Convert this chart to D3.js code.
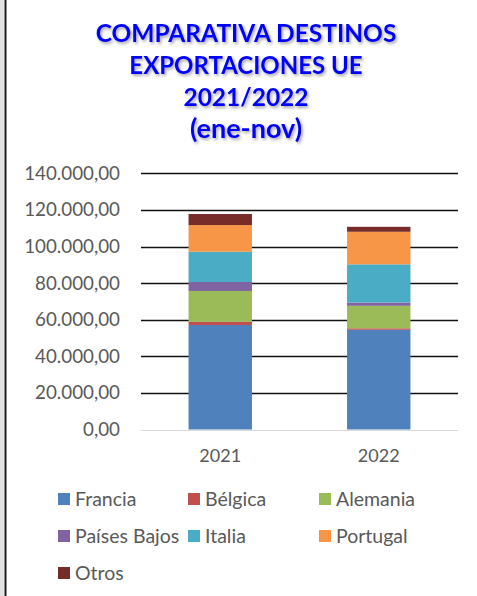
<!DOCTYPE html>
<html><head><meta charset="utf-8">
<script src="https://cdn.jsdelivr.net/npm/d3@7"></script>
<style>html,body{margin:0;padding:0;background:#fff;}svg{display:block;}</style>
</head><body>
<script>
const years = ["2021", "2022"];
const seriesNames = ["Francia", "Bélgica", "Alemania", "Países Bajos", "Italia", "Portugal", "Otros"];
const colors = ["#4F81BD", "#C0504D", "#9BBB59", "#8064A2", "#4BACC6", "#F79646", "#772C2A"];
const francia = [57100, 54500];
const belgica = [1800, 800];
const alemania = [16800, 12300];
const paisesBajos = [4900, 1800];
const italia = [16550, 20850];
const portugal = [14550, 17800];
const otros = [6050, 2700];
const yTicks = [0, 20000, 40000, 60000, 80000, 100000, 120000, 140000];
const titleLines = ["COMPARATIVA DESTINOS", "EXPORTACIONES UE", "2021/2022", "(ene-nov)"];

const W = 477, H = 596;
const svg = d3.select("body").append("svg").attr("width", W).attr("height", H);

// frame left edge
svg.append("rect").attr("x", 0).attr("y", 0).attr("width", 4).attr("height", H).attr("fill", "#e2e2e2");
svg.append("rect").attr("x", 4.5).attr("y", 0).attr("width", 2).attr("height", H).attr("fill", "#1a1a1a");

const defs = svg.append("defs");
const f = defs.append("filter").attr("id", "sh").attr("x", "-10%").attr("y", "-30%").attr("width", "130%").attr("height", "170%");
f.append("feDropShadow").attr("dx", 1.5).attr("dy", 2).attr("stdDeviation", 1.5).attr("flood-color", "#000").attr("flood-opacity", 0.35);

const font = "Lato, 'Open Sans', sans-serif";
const titleSizes = [24.5, 24, 24.5, 27];

// title
svg.append("g").attr("filter", "url(#sh)")
  .selectAll("text").data(titleLines).join("text")
  .attr("x", 246).attr("y", (d, i) => 42 + i * 32)
  .attr("text-anchor", "middle")
  .attr("font-family", font).attr("font-weight", "bold").attr("font-size", (d, i) => titleSizes[i])
  .attr("fill", "#0000FF").text(d => d);

const data = years.map((y, i) => ({
  year: y,
  "Francia": francia[i], "Bélgica": belgica[i], "Alemania": alemania[i],
  "Países Bajos": paisesBajos[i], "Italia": italia[i], "Portugal": portugal[i], "Otros": otros[i]
}));

const x = d3.scaleBand().domain(years).range([141, 458]).paddingInner(0.6).paddingOuter(0.3);
const y = d3.scaleLinear().domain([0, 140000]).range([429.5, 173.3]);

const fmt = v => {
  const s = d3.format(",.2f")(v);
  return s.replace(/,/g, "#").replace(/\./g, ",").replace(/#/g, ".");
};

// gridlines
svg.append("g").selectAll("line").data(yTicks).join("line")
  .attr("x1", 141).attr("x2", 458)
  .attr("y1", d => Math.round(y(d)) + 0.5).attr("y2", d => Math.round(y(d)) + 0.5)
  .attr("stroke", d => d === 0 ? "#d9d9d9" : "#111").attr("stroke-width", d => d === 0 ? 1.2 : 1.4);

// y axis labels
svg.append("g").selectAll("text").data(yTicks).join("text")
  .attr("x", 120).attr("y", d => y(d) + 6.5)
  .attr("text-anchor", "end").attr("font-family", font).attr("font-size", 18.8)
  .attr("fill", "#595959").text(d => fmt(d));

// stacked bars
const stack = d3.stack().keys(seriesNames)(data);
svg.append("g").selectAll("g").data(stack).join("g")
  .attr("fill", (d, i) => colors[i])
  .selectAll("rect").data(d => d).join("rect")
  .attr("x", d => x(d.data.year)).attr("width", x.bandwidth())
  .attr("y", d => y(d[1])).attr("height", d => y(d[0]) - y(d[1]));

// x labels
svg.append("g").selectAll("text").data(years).join("text")
  .attr("x", d => x(d) + x.bandwidth() / 2).attr("y", 462)
  .attr("text-anchor", "middle").attr("font-family", font).attr("font-size", 18)
  .attr("fill", "#595959").text(d => d);

// legend
const colX = [58, 188, 319];
const rowY = [499, 536, 573];
const lg = svg.append("g").selectAll("g").data(seriesNames).join("g")
  .attr("transform", (d, i) => `translate(${colX[i % 3]},${rowY[Math.floor(i / 3)]})`);
lg.append("rect").attr("x", 0).attr("y", -6).attr("width", 12).attr("height", 12)
  .attr("fill", (d, i) => colors[i]);
lg.append("text").attr("x", 17).attr("y", 7)
  .attr("font-family", font).attr("font-size", 19.5).attr("fill", "#595959").text(d => d);
</script>
</body></html>
